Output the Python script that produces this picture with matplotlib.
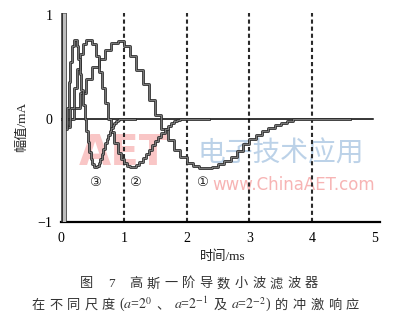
import numpy as np
import matplotlib
matplotlib.use('Agg')
import matplotlib.pyplot as plt
import matplotlib.patheffects as pe
from matplotlib.offsetbox import TextArea, HPacker, AnnotationBbox

plt.rcParams['mathtext.fontset'] = 'stix'

# ---------------- data ----------------
dt1, dt2, dt3 = 0.1, 0.05, 0.025
v1 = [0.0, 0.0, 0.10, 0.25, 0.38, 0.50, 0.58, 0.66, 0.73, 0.75,
      0.70, 0.60, 0.47, 0.33, 0.18, 0.03, -0.10, -0.21, -0.30, -0.37,
      -0.43, -0.46, -0.48, -0.48, -0.47, -0.44, -0.41, -0.37, -0.31, -0.25,
      -0.20, -0.16, -0.12, -0.09, -0.06, -0.04, -0.02, 0.0, 0.0, 0.0,
      0.0, 0.0, 0.0, 0.0, 0.0, 0.0, 0.0]
v2 = [0.0, -0.06, -0.08, 0.10, 0.30, 0.48, 0.62, 0.72, 0.76, 0.76,
      0.72, 0.60, 0.45, 0.30, 0.15, 0.0, -0.13, -0.24, -0.33, -0.39,
      -0.43, -0.46, -0.47, -0.47, -0.45, -0.42, -0.38, -0.34, -0.30, -0.26,
      -0.22, -0.18, -0.14, -0.10, -0.07, -0.04, -0.02, -0.01, 0.0, 0.0,
      0.0, 0.0, 0.0, 0.0, 0.0, 0.0, 0.0, 0.0]
v3 = [0.0, -0.05, -0.10, -0.10, 0.10, 0.35, 0.55, 0.70, 0.76, 0.76,
      0.70, 0.58, 0.43, 0.28, 0.13, 0.0, -0.12, -0.23, -0.32, -0.39,
      -0.44, -0.47, -0.47, -0.46, -0.43, -0.39, -0.34, -0.29, -0.24, -0.20,
      -0.16, -0.12, -0.09, -0.06, -0.04, -0.02, -0.01, 0.0, 0.0, 0.0,
      0.0, 0.0, 0.0, 0.0, 0.0, 0.0, 0.0, 0.0]
t1 = np.round(np.arange(len(v1)) * dt1, 3)
t2 = np.round(np.arange(len(v2)) * dt2, 3)
t3 = np.round(np.arange(len(v3)) * dt3, 3)

spike_x = 0.05
grid_x = [1, 2, 3, 4]
xticks = [0, 1, 2, 3, 4, 5]
yticks = [-1, 0, 1]
ytick_labels = ['\u22121', '0', '1']
curve_labels = ['\u2460', '\u2461', '\u2462']
label_pos = [(2.25, -0.62), (1.18, -0.62), (0.54, -0.62)]

# ---------------- figure ----------------
fig = plt.figure(figsize=(3.95, 3.24), dpi=100)
ax = fig.add_axes([61 / 395, 102 / 324, 319 / 395, 210 / 324])
ax.set_xlim(0, 5.08)
ax.set_ylim(-1, 1.03)

serif_cjk = ['Liberation Serif', 'Noto Sans CJK SC']

# watermark (light, kept clear of the curve labels)
ax.text(1.0, -0.33, 'AET', fontsize=30, fontweight='bold', color='#f9c6c6',
        ha='center', va='center', family='DejaVu Sans', zorder=0)
ax.text(3.5, -0.34, '电子技术应用', fontsize=20, color='#bcd2e8',
        ha='center', va='center', family=['Noto Sans CJK SC'], zorder=0)
ax.text(3.7, -0.64, 'www.ChinaAET.com', fontsize=12, color='#f7b4b4',
        ha='center', va='center', family='DejaVu Sans', zorder=0)

# dashed grid lines
for gx in grid_x:
    ax.plot([gx, gx], [-1, 1.02], color='#2a2a2a', lw=1.5,
            linestyle=(0, (2.0, 1.4)), zorder=1)

# zero line
ax.plot([0, 4.97], [0, 0], color='black', lw=1.1, zorder=2)

outline = [pe.Stroke(linewidth=2.0, foreground='#303030'), pe.Normal()]
for t, v in [(t1, v1), (t2, v2), (t3, v3)]:
    ax.step(t, v, where='post', color='#7a7a7a', lw=0.7, zorder=3,
            path_effects=outline)

# spike at origin
ax.plot([spike_x, spike_x], [-1, 1.02], color='#bdbdbd', lw=2.2, zorder=4,
        path_effects=[pe.Stroke(linewidth=4.0, foreground='#303030'), pe.Normal()],
        solid_capstyle='butt')

for lab, (lx, ly) in zip(curve_labels, label_pos):
    ax.text(lx, ly, lab, fontsize=9.5, ha='center', va='center',
            family=['DejaVu Sans', 'Noto Sans CJK SC'], color='#222', zorder=5)

for s in ['top', 'right', 'left']:
    ax.spines[s].set_visible(False)
ax.spines['bottom'].set_linewidth(1.6)
ax.spines['bottom'].set_color('black')

ax.set_xticks(xticks)
ax.set_xticklabels([str(x) for x in xticks], family='Liberation Serif', fontsize=10)
ax.set_yticks(yticks)
ax.set_yticklabels(ytick_labels, family='Liberation Serif', fontsize=10)
ax.tick_params(axis='x', length=0, pad=7)
ax.tick_params(axis='y', length=0, pad=6)

fig.text(223 / 395, 1 - 257 / 324, '时间/ms', family=serif_cjk, fontsize=9.5,
         ha='center', va='center', color='#222')
fig.text(22 / 395, 1 - 127 / 324, '幅值/mA', family=serif_cjk, fontsize=9.5,
         ha='center', va='center', rotation=90, color='#222')

# caption
cap_color = '#333333'
tp = dict(family=serif_cjk, size=9.5, color=cap_color)
mp = dict(family=['Liberation Serif'], size=10, color=cap_color)

line1 = HPacker(children=[TextArea('图', textprops=tp), TextArea('7', textprops=tp),
                          HPacker(children=[TextArea(c, textprops=tp) for c in '高斯一阶导数小波滤波器'],
                                  sep=3.1, pad=0, align='baseline')],
                sep=10.5, pad=0, align='baseline')
pieces2 = [TextArea(c, textprops=tp) for c in '在不同尺度']
pieces2 += [TextArea(r'($a$=$2^{0}$', textprops=mp), TextArea('、', textprops=tp),
            TextArea(r'$a$=$2^{-1}$', textprops=mp), TextArea('及', textprops=tp),
            TextArea(r'$a$=$2^{-2}$)', textprops=mp)]
pieces2 += [TextArea(c, textprops=tp) for c in '的冲激响应']
line2 = HPacker(children=pieces2, sep=3.1, pad=0, align='baseline')

for box, (cx, cy) in [(line1, (199, 284)), (line2, (195, 305))]:
    ab = AnnotationBbox(box, (cx / 395, 1 - cy / 324), xycoords='figure fraction',
                        frameon=False, box_alignment=(0.5, 0.5), annotation_clip=False)
    fig.add_artist(ab)

fig.savefig('out.png', dpi=100)
